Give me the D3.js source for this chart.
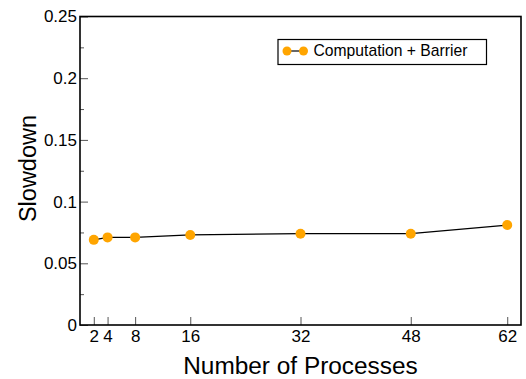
<!DOCTYPE html>
<html>
<head>
<meta charset="utf-8">
<script src="https://cdn.jsdelivr.net/npm/d3@7"></script>
<style>
  html, body { margin: 0; padding: 0; background: #fff; }
  svg { display: block; font-family: "Liberation Sans", Arial, sans-serif; }
</style>
</head>
<body>
<svg id="chart" width="526" height="379"></svg>
<script>
// Slowdown per process count
const processes = [2, 4, 8, 16, 32, 48, 62];
const slowdown = [0.069, 0.071, 0.071, 0.073, 0.074, 0.074, 0.081];
const xTicks = [2, 4, 8, 16, 32, 48, 62];
const yTicks = [0, 0.05, 0.1, 0.15, 0.2, 0.25];
const yMinorTicks = [0.025, 0.075, 0.125, 0.175, 0.225];
const seriesName = "Computation + Barrier";

const svg = d3.select("#chart");
const m = { left: 80, top: 16.5, right: 521, bottom: 325 };

const x = d3.scaleLinear().domain([0, 64]).range([m.left, m.right]);
const y = d3.scaleLinear().domain([0, 0.25]).range([m.bottom, m.top]);

// Inward ticks
const tickColor = "#555";
const font = "Liberation Sans, Arial, sans-serif";
const g = svg.append("g");

const xAxis = g.append("g")
  .attr("transform", `translate(0,${m.bottom})`)
  .call(d3.axisBottom(x).tickValues(xTicks).tickSize(-8).tickPadding(5).tickFormat(d3.format("d")));
xAxis.select(".domain").remove();
xAxis.selectAll(".tick line").attr("stroke", tickColor).attr("stroke-width", 1);
xAxis.selectAll(".tick text").attr("font-size", 17).attr("fill", "#000").attr("font-family", font);

const yAxis = g.append("g")
  .attr("transform", `translate(${m.left},0)`)
  .call(d3.axisLeft(y).tickValues(yTicks).tickSize(-8).tickPadding(3)
    .tickFormat(d => d === 0 ? "0" : String(+d.toFixed(3))));
yAxis.select(".domain").remove();
yAxis.selectAll(".tick line").attr("stroke", tickColor).attr("stroke-width", 1);
yAxis.selectAll(".tick text").attr("font-size", 17).attr("fill", "#000").attr("font-family", font);

const yMinor = g.append("g")
  .attr("transform", `translate(${m.left},0)`)
  .call(d3.axisLeft(y).tickValues(yMinorTicks).tickSize(-4).tickFormat(""));
yMinor.select(".domain").remove();
yMinor.selectAll(".tick line").attr("stroke", tickColor).attr("stroke-width", 1);

// Frame
svg.append("rect")
  .attr("x", m.left).attr("y", m.top)
  .attr("width", m.right - m.left).attr("height", m.bottom - m.top)
  .attr("fill", "none").attr("stroke", "#000").attr("stroke-width", 1.6);

// Series line and markers
const data = processes.map((p, i) => ({ p, v: slowdown[i] }));
svg.append("path")
  .datum(data)
  .attr("fill", "none").attr("stroke", "#000").attr("stroke-width", 1.2)
  .attr("d", d3.line().x(d => x(d.p)).y(d => y(d.v)));
svg.append("g").selectAll("circle")
  .data(data).join("circle")
  .attr("cx", d => x(d.p)).attr("cy", d => y(d.v)).attr("r", 5)
  .attr("fill", "#FFA500");

// Legend
const lg = svg.append("g");
lg.append("rect").attr("x", 278).attr("y", 39.5).attr("width", 208.5).attr("height", 25)
  .attr("fill", "#fff").attr("stroke", "#000").attr("stroke-width", 1.2);
lg.append("line").attr("x1", 287).attr("x2", 303.5).attr("y1", 51).attr("y2", 51)
  .attr("stroke", "#000").attr("stroke-width", 1.2);
lg.selectAll("circle").data([287, 303.5]).join("circle")
  .attr("cx", d => d).attr("cy", 51).attr("r", 4.5).attr("fill", "#FFA500");
lg.append("text").attr("x", 313.5).attr("y", 55.5).attr("font-size", 15.7).text(seriesName);

// Axis titles
svg.append("text").attr("x", 300.5).attr("y", 374)
  .attr("text-anchor", "middle").attr("font-size", 24.4).text("Number of Processes");
svg.append("text")
  .attr("transform", `translate(35.5,168.5) rotate(-90)`)
  .attr("text-anchor", "middle").attr("font-size", 23.5).text("Slowdown");
</script>
</body>
</html>
